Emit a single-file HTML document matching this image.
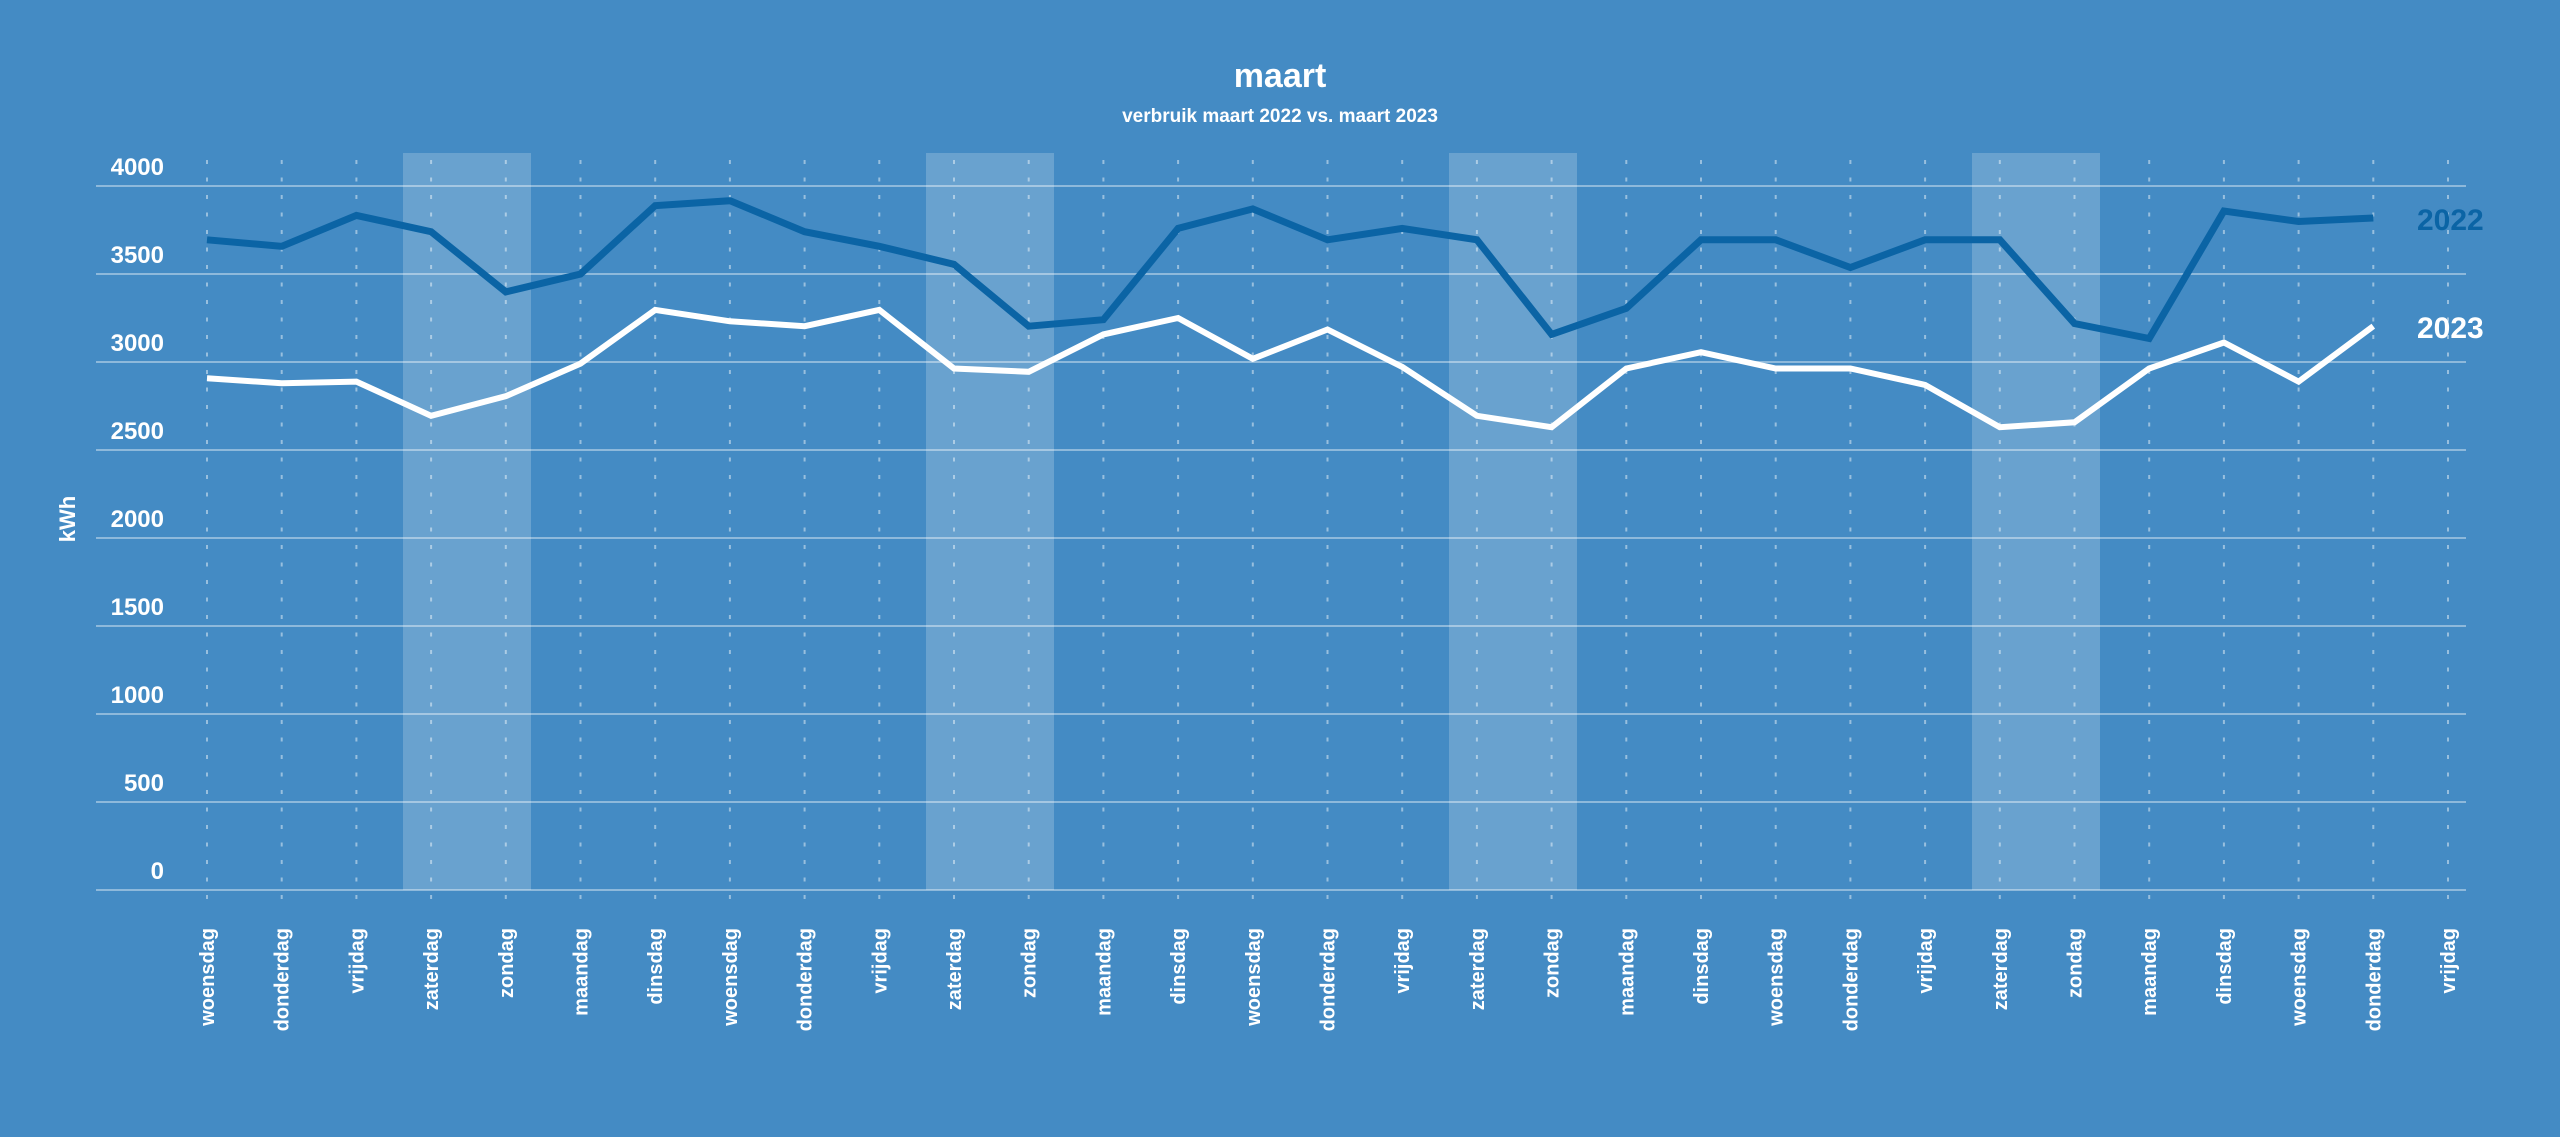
<!DOCTYPE html>
<html><head><meta charset="utf-8"><style>
html,body{margin:0;padding:0;background:#448bc4;}
svg{display:block;}
text{font-family:"Liberation Sans",sans-serif;font-weight:bold;}
</style></head><body>
<svg width="2560" height="1137" viewBox="0 0 2560 1137" xmlns="http://www.w3.org/2000/svg">
<rect width="2560" height="1137" fill="#448bc4"/>
<g fill="#ffffff" fill-opacity="0.2">
<rect x="403" y="153" width="128" height="737"/>
<rect x="926" y="153" width="128" height="737"/>
<rect x="1449" y="153" width="128" height="737"/>
<rect x="1972" y="153" width="128" height="737"/>
</g>
<g stroke="#ffffff" stroke-opacity="0.4" stroke-width="2">
<line x1="96" y1="186" x2="2466" y2="186"/>
<line x1="96" y1="274" x2="2466" y2="274"/>
<line x1="96" y1="362" x2="2466" y2="362"/>
<line x1="96" y1="450" x2="2466" y2="450"/>
<line x1="96" y1="538" x2="2466" y2="538"/>
<line x1="96" y1="626" x2="2466" y2="626"/>
<line x1="96" y1="714" x2="2466" y2="714"/>
<line x1="96" y1="802" x2="2466" y2="802"/>
<line x1="96" y1="890" x2="2466" y2="890"/>
</g>
<g stroke="#ffffff" stroke-opacity="0.45" stroke-width="2" stroke-dasharray="4 13.5">
<line x1="207" y1="160" x2="207" y2="912"/>
<line x1="281.7" y1="160" x2="281.7" y2="912"/>
<line x1="356.4" y1="160" x2="356.4" y2="912"/>
<line x1="431.1" y1="160" x2="431.1" y2="912"/>
<line x1="505.8" y1="160" x2="505.8" y2="912"/>
<line x1="580.5" y1="160" x2="580.5" y2="912"/>
<line x1="655.2" y1="160" x2="655.2" y2="912"/>
<line x1="729.9" y1="160" x2="729.9" y2="912"/>
<line x1="804.6" y1="160" x2="804.6" y2="912"/>
<line x1="879.3" y1="160" x2="879.3" y2="912"/>
<line x1="954" y1="160" x2="954" y2="912"/>
<line x1="1028.7" y1="160" x2="1028.7" y2="912"/>
<line x1="1103.4" y1="160" x2="1103.4" y2="912"/>
<line x1="1178.1" y1="160" x2="1178.1" y2="912"/>
<line x1="1252.8" y1="160" x2="1252.8" y2="912"/>
<line x1="1327.5" y1="160" x2="1327.5" y2="912"/>
<line x1="1402.2" y1="160" x2="1402.2" y2="912"/>
<line x1="1476.9" y1="160" x2="1476.9" y2="912"/>
<line x1="1551.6" y1="160" x2="1551.6" y2="912"/>
<line x1="1626.3" y1="160" x2="1626.3" y2="912"/>
<line x1="1701" y1="160" x2="1701" y2="912"/>
<line x1="1775.7" y1="160" x2="1775.7" y2="912"/>
<line x1="1850.4" y1="160" x2="1850.4" y2="912"/>
<line x1="1925.1" y1="160" x2="1925.1" y2="912"/>
<line x1="1999.8" y1="160" x2="1999.8" y2="912"/>
<line x1="2074.5" y1="160" x2="2074.5" y2="912"/>
<line x1="2149.2" y1="160" x2="2149.2" y2="912"/>
<line x1="2223.9" y1="160" x2="2223.9" y2="912"/>
<line x1="2298.6" y1="160" x2="2298.6" y2="912"/>
<line x1="2373.3" y1="160" x2="2373.3" y2="912"/>
<line x1="2448" y1="160" x2="2448" y2="912"/>
</g>
<polyline fill="none" stroke="#0b64a5" stroke-width="7" stroke-linejoin="miter" points="207,239.8 281.7,246.3 356.4,215.4 431.1,231.7 505.8,291.9 580.5,274 655.2,205.6 729.9,200.7 804.6,231.7 879.3,246.3 954,264.3 1028.7,326.2 1103.4,319.7 1178.1,228.4 1252.8,208.9 1327.5,239.8 1402.2,228.4 1476.9,239.8 1551.6,334.4 1626.3,308.3 1701,239.8 1775.7,239.8 1850.4,267.5 1925.1,239.8 1999.8,239.8 2074.5,323.5 2149.2,338.5 2223.9,211 2298.6,221.5 2373.3,218"/>
<polyline fill="none" stroke="#ffffff" stroke-width="6" stroke-linejoin="miter" points="207,378.3 281.7,383.2 356.4,381.6 431.1,415.8 505.8,396.2 580.5,363.6 655.2,309.9 729.9,321.3 804.6,326.2 879.3,309.9 954,368.5 1028.7,371.8 1103.4,334.4 1178.1,318 1252.8,358.8 1327.5,329.5 1402.2,366.9 1476.9,415.8 1551.6,427.2 1626.3,368.5 1701,352.2 1775.7,368.5 1850.4,368.5 1925.1,384.9 1999.8,427.2 2074.5,422.3 2149.2,368.5 2223.9,342.5 2298.6,381.6 2373.3,326.2"/>
<g fill="#ffffff" font-size="24" text-anchor="end">
<text x="164" y="175">4000</text>
<text x="164" y="263">3500</text>
<text x="164" y="351">3000</text>
<text x="164" y="439">2500</text>
<text x="164" y="527">2000</text>
<text x="164" y="615">1500</text>
<text x="164" y="703">1000</text>
<text x="164" y="791">500</text>
<text x="164" y="879">0</text>
</g>
<text x="0" y="0" transform="translate(75,519) rotate(-90)" fill="#fff" font-size="22" text-anchor="middle">kWh</text>
<text x="1280" y="87" fill="#fff" font-size="34" text-anchor="middle">maart</text>
<text x="1280" y="122" fill="#fff" font-size="19" text-anchor="middle">verbruik maart 2022 vs. maart 2023</text>
<text x="2417" y="230" fill="#0b64a5" font-size="30">2022</text>
<text x="2417" y="338" fill="#ffffff" font-size="30">2023</text>
<g fill="#ffffff" font-size="20" text-anchor="end">
<text transform="translate(214,928) rotate(-90)">woensdag</text>
<text transform="translate(288.7,928) rotate(-90)">donderdag</text>
<text transform="translate(363.4,928) rotate(-90)">vrijdag</text>
<text transform="translate(438.1,928) rotate(-90)">zaterdag</text>
<text transform="translate(512.8,928) rotate(-90)">zondag</text>
<text transform="translate(587.5,928) rotate(-90)">maandag</text>
<text transform="translate(662.2,928) rotate(-90)">dinsdag</text>
<text transform="translate(736.9,928) rotate(-90)">woensdag</text>
<text transform="translate(811.6,928) rotate(-90)">donderdag</text>
<text transform="translate(886.3,928) rotate(-90)">vrijdag</text>
<text transform="translate(961,928) rotate(-90)">zaterdag</text>
<text transform="translate(1035.7,928) rotate(-90)">zondag</text>
<text transform="translate(1110.4,928) rotate(-90)">maandag</text>
<text transform="translate(1185.1,928) rotate(-90)">dinsdag</text>
<text transform="translate(1259.8,928) rotate(-90)">woensdag</text>
<text transform="translate(1334.5,928) rotate(-90)">donderdag</text>
<text transform="translate(1409.2,928) rotate(-90)">vrijdag</text>
<text transform="translate(1483.9,928) rotate(-90)">zaterdag</text>
<text transform="translate(1558.6,928) rotate(-90)">zondag</text>
<text transform="translate(1633.3,928) rotate(-90)">maandag</text>
<text transform="translate(1708,928) rotate(-90)">dinsdag</text>
<text transform="translate(1782.7,928) rotate(-90)">woensdag</text>
<text transform="translate(1857.4,928) rotate(-90)">donderdag</text>
<text transform="translate(1932.1,928) rotate(-90)">vrijdag</text>
<text transform="translate(2006.8,928) rotate(-90)">zaterdag</text>
<text transform="translate(2081.5,928) rotate(-90)">zondag</text>
<text transform="translate(2156.2,928) rotate(-90)">maandag</text>
<text transform="translate(2230.9,928) rotate(-90)">dinsdag</text>
<text transform="translate(2305.6,928) rotate(-90)">woensdag</text>
<text transform="translate(2380.3,928) rotate(-90)">donderdag</text>
<text transform="translate(2455,928) rotate(-90)">vrijdag</text>
</g>
</svg>
</body></html>
